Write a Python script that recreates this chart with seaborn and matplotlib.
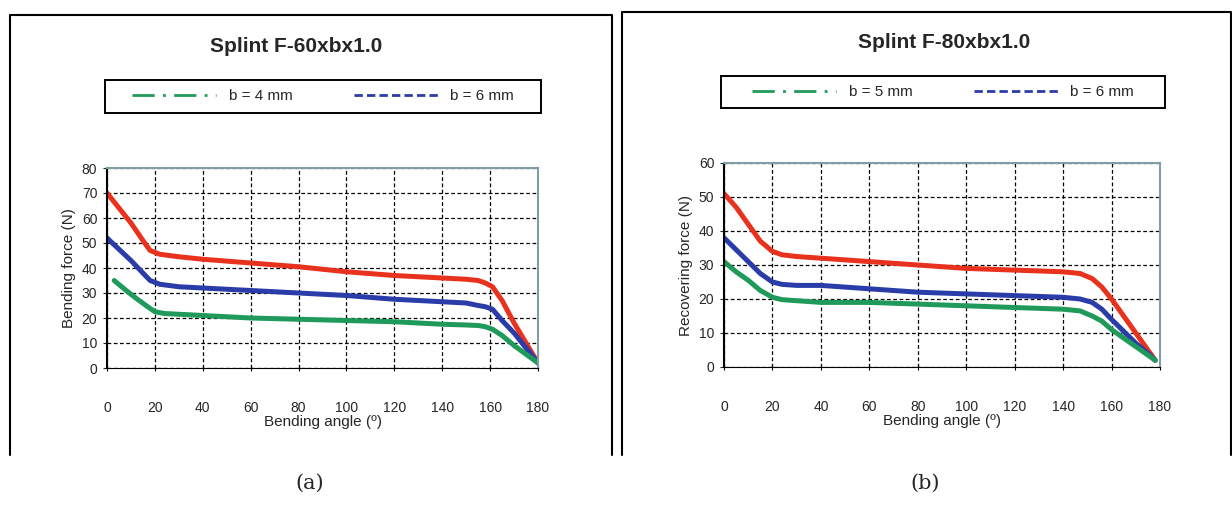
import pandas as pd
import seaborn as sns
import matplotlib.pyplot as plt
from matplotlib.lines import Line2D

# panel (a): Splint F-60xbx1.0
angle_a_red = [0, 5, 10, 15, 18, 22, 30, 40, 60, 80, 100, 120, 140, 150, 155, 158, 161, 165, 170, 175, 180]
force_a_red = [70, 64, 58, 51, 47, 45.5, 44.5, 43.5, 42, 40.5, 38.5, 37, 36, 35.5, 35, 34, 32.5, 27, 18, 10, 2]
angle_a_blue = [0, 5, 10, 15, 18, 22, 30, 40, 60, 80, 100, 120, 140, 150, 155, 158, 161, 165, 170, 175, 180]
force_a_blue = [52, 47.5, 43, 38, 35, 33.5, 32.5, 32, 31, 30, 29, 27.5, 26.5, 26, 25, 24.5, 23.5, 19, 14, 8, 2]
angle_a_green = [3, 8, 12, 17, 20, 24, 30, 40, 60, 80, 100, 120, 140, 150, 155, 158, 161, 165, 170, 175, 180]
force_a_green = [35, 31, 28, 24.5, 22.5, 21.8, 21.5, 21, 20, 19.5, 19, 18.5, 17.5, 17.2, 17, 16.5, 15.5, 13, 9, 5.5, 2]

# panel (b): Splint F-80xbx1.0
angle_b_red = [0, 5, 10, 15, 20, 24, 30, 40, 60, 80, 100, 120, 140, 147, 152, 156, 160, 165, 170, 175, 178]
force_b_red = [51, 47, 42, 37, 34, 33, 32.5, 32, 31, 30, 29, 28.5, 28, 27.5, 26, 23.5, 20, 15, 10, 5, 2]
angle_b_blue = [0, 5, 10, 15, 20, 24, 30, 40, 60, 80, 100, 120, 140, 147, 152, 156, 160, 165, 170, 175, 178]
force_b_blue = [38, 34.5, 31, 27.5, 25, 24.3, 24, 24, 23, 22, 21.5, 21, 20.5, 20, 19, 17, 14, 10.5, 7, 4, 2]
angle_b_green = [0, 5, 10, 15, 20, 24, 30, 40, 60, 80, 100, 120, 140, 147, 152, 156, 160, 165, 170, 175, 178]
force_b_green = [31, 28, 25.5, 22.5, 20.5, 19.8, 19.5, 19, 19, 18.5, 18, 17.5, 17, 16.5, 15, 13.5, 11, 8.5, 6, 3.5, 2]

x_ticks = [0, 20, 40, 60, 80, 100, 120, 140, 160, 180]

red = '#e8321e'
blue = '#2a3ca8'
green = '#1f9a5a'

sns.set_style('white')
plt.rcParams['font.family'] = ['Liberation Sans', 'DejaVu Sans']

W, H = 1232, 505
fig = plt.figure(figsize=(W / 100, H / 100), dpi=100)


def rect(x0, y0, x1, y1):
    return [x0 / W, 1 - y1 / H, (x1 - x0) / W, (y1 - y0) / H]


def frame(x0, y0, x1, y1):
    # panel border, open at the bottom
    fig.add_artist(Line2D([x0 / W, x0 / W, x1 / W, x1 / W],
                          [1 - y1 / H, 1 - y0 / H, 1 - y0 / H, 1 - y1 / H],
                          color='black', lw=1.5))


def panel(box, data, ymax, ylabel, title, title_xy, leg_box, leg_labels):
    ax = fig.add_axes(rect(*box))
    for xs, ys, c in data:
        sns.lineplot(x=xs, y=ys, color=c, lw=3.6, ax=ax)
    ax.set_xlim(0, 180)
    ax.set_ylim(0, ymax)
    ax.set_xticks(x_ticks)
    ax.set_yticks(range(0, ymax + 1, 10))
    ax.grid(True, color='black', ls=(0, (3, 2)), lw=0.9)
    for s in ['top', 'right']:
        ax.spines[s].set_color('#7f9ea6')
        ax.spines[s].set_linewidth(1.5)
    ax.spines['bottom'].set_color('black')
    ax.spines['left'].set_color('black')
    ax.spines['left'].set_linewidth(1.5)
    ax.tick_params(axis='x', pad=22, labelsize=10, length=4, color='black', direction='inout', bottom=True)
    ax.tick_params(axis='y', pad=4, labelsize=10, length=3, left=True)
    ax.set_xlabel('Bending angle (º)', fontsize=11, labelpad=0)
    ax.set_ylabel(ylabel, fontsize=11, labelpad=4)
    fig.text(title_xy[0] / W, 1 - title_xy[1] / H, title, fontsize=15,
             fontweight='bold', ha='center', va='center')
    handles = [Line2D([], [], color=green, lw=2, ls=(0, (8, 3, 1, 3))),
               Line2D([], [], color=blue, lw=2, ls=(0, (3, 1.5)))]
    lx0, ly0, lx1, ly1 = leg_box
    leg = fig.legend(handles, leg_labels, ncol=2,
                     bbox_to_anchor=(lx0 / W, 1 - ly1 / H, (lx1 - lx0) / W, (ly1 - ly0) / H),
                     loc='center', frameon=False, fontsize=11,
                     handlelength=5.5, borderaxespad=0, columnspacing=4)
    fig.add_artist(plt.Rectangle((lx0 / W, 1 - ly1 / H), (lx1 - lx0) / W, (ly1 - ly0) / H,
                                 fill=False, edgecolor='black', lw=1.4,
                                 transform=fig.transFigure))
    return ax


frame(10, 15, 612, 455)
frame(622, 12, 1231, 455)

panel((107, 168, 538, 368),
      [(angle_a_red, force_a_red, red), (angle_a_blue, force_a_blue, blue),
       (angle_a_green, force_a_green, green)],
      80, 'Bending force (N)', 'Splint F-60xbx1.0', (296, 46), (105, 80, 541, 113),
      ['b = 4 mm', 'b = 6 mm'])

panel((724, 163, 1160, 367),
      [(angle_b_red, force_b_red, red), (angle_b_blue, force_b_blue, blue),
       (angle_b_green, force_b_green, green)],
      60, 'Recovering force (N)', 'Splint F-80xbx1.0', (944, 42), (721, 76, 1165, 108),
      ['b = 5 mm', 'b = 6 mm'])

fig.text(310 / W, 1 - 483 / H, '(a)', fontsize=15, family='DejaVu Serif', ha='center', va='center')
fig.text(925 / W, 1 - 483 / H, '(b)', fontsize=15, family='DejaVu Serif', ha='center', va='center')

fig.savefig('out.png', dpi=100)
